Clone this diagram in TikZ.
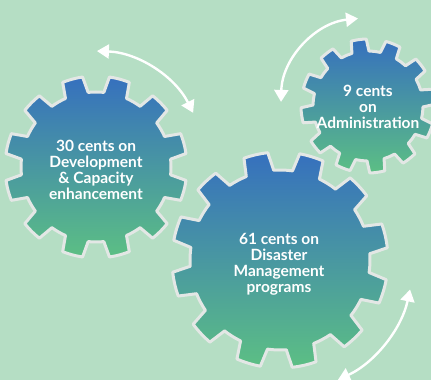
\documentclass[tikz,border=0pt]{standalone}
\usepackage{fontspec}
\setmainfont{Lato}
\usetikzlibrary{arrows.meta}
\definecolor{bgc}{HTML}{B5DEC4}
\definecolor{gtop}{HTML}{3670BE}
\definecolor{gbot}{HTML}{5CBF84}
\definecolor{gline}{HTML}{E3E7E5}
\newcommand{\mygear}[5]{% cx, cy, rin, rout, offset
  \begin{scope}[shift={(#1,#2)}]
  \shadedraw[gearbody] ({#5-9}:#3)
    \foreach \k in {0,...,11}{
      -- ({#5+30*\k-9}:#3) -- ({#5+30*\k-6.5}:#4)
      arc[start angle={#5+30*\k-6.5}, end angle={#5+30*\k+6.5}, radius=#4pt]
      -- ({#5+30*\k+9}:#3)
      arc[start angle={#5+30*\k+9}, end angle={#5+30*\k+21}, radius=#3pt]
    } -- cycle;
  \end{scope}}
\begin{document}
\begin{tikzpicture}[x=1pt,y=1pt,
  gearbody/.style={top color=gtop, bottom color=gbot, draw=gline, line width=3pt, line join=round},
  lbl/.style={text=white, align=center, font=\fontsize{15.5}{16}\selectfont\bfseries, inner sep=0pt},
  turn/.style={draw=white, line width=2.4pt, {Triangle[length=12pt,width=14pt]}-{Triangle[length=12pt,width=14pt]}}]
\useasboundingbox (0,0) rectangle (431,380);
\fill[bgc] (0,0) rectangle (431,380);
% gears
\mygear{96}{213}{75}{91}{15}
\mygear{368}{274}{55}{67}{8}
\mygear{280}{120}{90}{108}{13}
% labels
\node[lbl] (dev) at (96,210) {30 cents on\\Development\\\& Capacity\\enhancement};
\node[lbl] (adm) at (368,273) {9 cents\\on\\Administration};
\node[lbl] (dis) at (279,116) {61 cents on\\Disaster\\Management\\programs};
% rotation arrows
\coordinate (c1) at (93,217);
\coordinate (c2) at (367,276);
\coordinate (c3) at (283,118);
\coordinate (a1) at ([shift={(88:112)}]c1);
\coordinate (a2) at ([shift={(96:86)}]c2);
\coordinate (a3) at ([shift={(-12.2:130)}]c3);
\draw[turn] (a1) arc[start angle=88, end angle=26.6, radius=112pt];
\draw[turn] (a2) arc[start angle=96, end angle=178.6, radius=86pt];
\draw[turn] (a3) arc[start angle=-12.2, end angle=-65, radius=130pt];
\end{tikzpicture}
\end{document}
